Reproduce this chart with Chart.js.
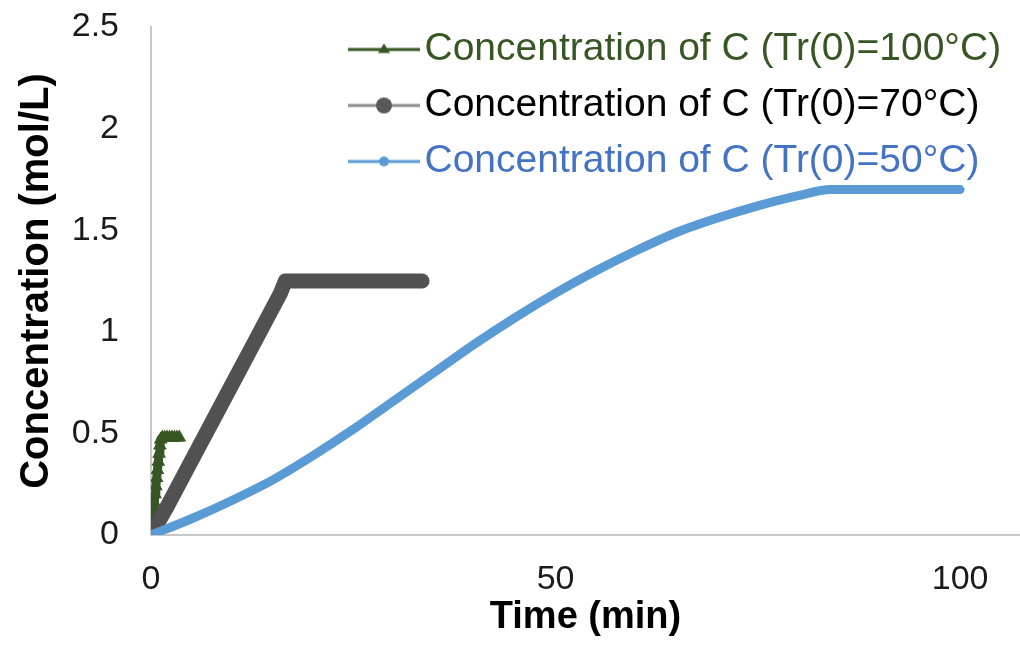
<!DOCTYPE html>
<html>
<head>
<meta charset="utf-8">
<script src="https://cdn.jsdelivr.net/npm/chart.js@4.4.1/dist/chart.umd.min.js"></script>
<style>
  html, body { margin: 0; padding: 0; background: #fff; }
  #wrap { width: 1020px; height: 646px; }
</style>
</head>
<body>
<div id="wrap"><canvas id="chart"></canvas></div>
<script>
// series (time in min, concentration in mol/L)
var t100 = [0, 0.1, 0.2, 0.3, 0.4, 0.5, 0.6, 0.7, 0.8, 0.9, 1.0, 1.1, 1.2, 1.4, 1.7, 2.0, 2.3, 2.6, 2.9, 3.2, 3.5];
var c100 = [0, 0.04, 0.08, 0.12, 0.16, 0.20, 0.24, 0.28, 0.32, 0.36, 0.40, 0.44, 0.47, 0.48, 0.48, 0.48, 0.48, 0.48, 0.48, 0.48, 0.48];

var t70 = [0, 2, 4, 6, 8, 10, 12, 14, 16, 16.6, 20, 25, 30, 33.5];
var c70 = [0, 0.14, 0.29, 0.44, 0.59, 0.74, 0.89, 1.04, 1.19, 1.25, 1.25, 1.25, 1.25, 1.25];

var t50 = [0, 5, 10, 15, 20, 25, 30, 35, 40, 45, 50, 55, 60, 65, 70, 75, 80, 84, 90, 100];
var c50 = [0, 0.08, 0.17, 0.27, 0.39, 0.52, 0.66, 0.80, 0.94, 1.07, 1.19, 1.30, 1.40, 1.49, 1.56, 1.62, 1.67, 1.70, 1.70, 1.70];

var seriesNames = [
    'Concentration of C (Tr(0)=100°C)',
    'Concentration of C (Tr(0)=70°C)',
    'Concentration of C (Tr(0)=50°C)'
];
var xTicks = [0, 50, 100];
var yTicks = [0, 0.5, 1, 1.5, 2, 2.5];

function pairs(xs, ys) {
    return xs.map(function (x, i) { return {x: x, y: ys[i]}; });
}

// little legend swatches: line with the marker on it
function swatch(lineColor, markColor, shape, size) {
    var c = document.createElement('canvas');
    c.width = 72; c.height = 22;
    var g = c.getContext('2d');
    g.strokeStyle = lineColor; g.lineWidth = 3;
    g.beginPath(); g.moveTo(0, 11); g.lineTo(72, 11); g.stroke();
    g.fillStyle = markColor;
    g.beginPath();
    if (shape === 'tri') {
        g.moveTo(36, 11 - size); g.lineTo(36 + size, 11 + size * 0.6); g.lineTo(36 - size, 11 + size * 0.6);
        g.closePath();
    } else {
        g.arc(36, 11, size, 0, Math.PI * 2);
    }
    g.fill();
    return c;
}

var legendMarks = [
    swatch('#375623', '#375623', 'tri', 6),
    swatch('#8c8c8c', '#595959', 'dot', 8),
    swatch('#5b9bd5', '#5b9bd5', 'dot', 5)
];
var legendText = ['#375623', '#000000', '#4472c4'];

var legendSpot = {
    id: 'legendSpot',
    afterLayout: function (chart) {
        var lg = chart.legend;
        lg.left = 346; lg.top = 13;
        lg.right = 1020; lg.bottom = 646;
    }
};

function noPad(s) {
    s.paddingTop = 0; s.paddingBottom = 0;
    s.paddingLeft = 0; s.paddingRight = 0;
}

var font = 'Liberation Sans, Arial, sans-serif';
var ctx = document.getElementById('chart').getContext('2d');

var chart = new Chart(ctx, {
    type: 'line',
    data: {
        datasets: [{
            label: seriesNames[0],
            data: pairs(t100, c100),
            borderColor: '#375623',
            backgroundColor: '#375623',
            borderWidth: 9,
            borderJoinStyle: 'round',
            pointStyle: 'triangle',
            pointRadius: 8,
            pointBorderWidth: 0,
            order: 3
        }, {
            label: seriesNames[1],
            data: pairs(t70, c70),
            borderColor: '#515151',
            backgroundColor: '#515151',
            borderWidth: 15,
            borderCapStyle: 'round',
            borderJoinStyle: 'round',
            pointRadius: 0,
            order: 2
        }, {
            label: seriesNames[2],
            data: pairs(t50, c50),
            borderColor: '#5b9bd5',
            backgroundColor: '#5b9bd5',
            borderWidth: 9,
            borderCapStyle: 'round',
            borderJoinStyle: 'round',
            cubicInterpolationMode: 'monotone',
            pointRadius: 0,
            order: 1
        }]
    },
    options: {
        responsive: true,
        maintainAspectRatio: false,
        animation: false,
        layout: { autoPadding: false, padding: { top: 27, right: 0, left: 0, bottom: 0 } },
        plugins: {
            tooltip: { enabled: false },
            legend: {
                position: 'chartArea',
                align: 'start',
                labels: {
                    usePointStyle: true,
                    pointStyleWidth: 42,
                    padding: 17,
                    font: { family: font, size: 39 },
                    generateLabels: function (ch) {
                        return ch.data.datasets.map(function (ds, i) {
                            return {
                                text: ds.label,
                                fontColor: legendText[i],
                                pointStyle: legendMarks[i],
                                fillStyle: ds.borderColor,
                                strokeStyle: ds.borderColor,
                                lineWidth: 0,
                                hidden: false,
                                datasetIndex: i
                            };
                        });
                    }
                }
            }
        },
        scales: {
            x: {
                type: 'linear',
                min: 0,
                max: 107.4,
                afterFit: function (s) { s.height = 111; noPad(s); },
                afterBuildTicks: function (s) {
                    s.ticks = xTicks.map(function (v) { return {value: v}; });
                },
                grid: { display: false, drawTicks: false },
                border: { display: true, color: '#c8c8c8', width: 2 },
                ticks: {
                    padding: 24,
                    color: '#1a1a1a',
                    font: { family: font, size: 34 },
                    callback: function (v) { return String(v); }
                },
                title: {
                    display: true,
                    text: 'Time (min)',
                    color: '#000',
                    padding: { top: 0, bottom: 6 },
                    font: { family: font, size: 38, weight: 'bold' }
                }
            },
            y: {
                min: 0,
                max: 2.5,
                afterFit: function (s) { s.width = 151; noPad(s); },
                afterBuildTicks: function (s) {
                    s.ticks = yTicks.map(function (v) { return {value: v}; });
                },
                grid: { display: false, drawTicks: false },
                border: { display: true, color: '#c8c8c8', width: 2 },
                ticks: {
                    padding: 32,
                    color: '#1a1a1a',
                    font: { family: font, size: 34 },
                    callback: function (v) { return String(v); }
                },
                title: {
                    display: true,
                    text: 'Concentration (mol/L)',
                    color: '#000',
                    padding: { top: 13, bottom: 0 },
                    font: { family: font, size: 40, weight: 'bold' }
                }
            }
        }
    },
    plugins: [legendSpot]
});
</script>
</body>
</html>
